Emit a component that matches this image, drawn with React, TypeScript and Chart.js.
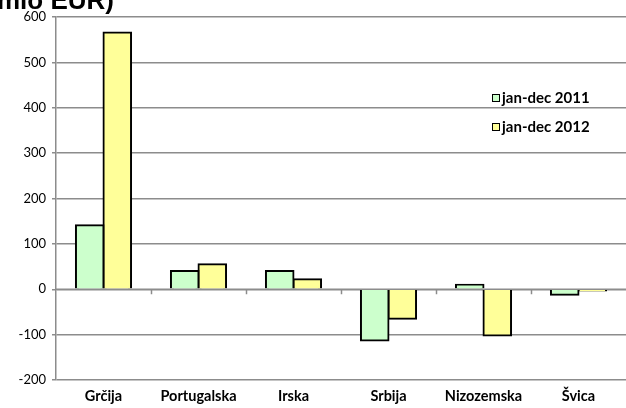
import React, { useEffect, useRef } from "react";
import { Chart, registerables } from "chart.js";
Chart.register(...registerables);

const categories = ["Grčija", "Portugalska", "Irska", "Srbija", "Nizozemska", "Švica"];
const series2011 = [141, 40, 40, -113, 10, -12];
const series2012 = [566, 55, 22, -65, -102, -3];
const seriesLabels = ["jan-dec 2011", "jan-dec 2012"];
const titleText = "mio EUR)";

const GREEN = "#CCFFCC";
const YELLOW = "#FFFF99";
const GRID = "#8c8c8c";
const FONT = "Lato, 'Open Sans', sans-serif";

const overlayPlugin = {
  id: "overlay",
  afterDraw(chart: any) {
    const ctx = chart.ctx;
    const y = chart.scales.y;
    const area = chart.chartArea;
    ctx.save();
    const y0 = y.getPixelForValue(0);
    ctx.strokeStyle = GRID;
    ctx.lineWidth = 1.5;
    // zero line over bars
    ctx.beginPath();
    ctx.moveTo(area.left, y0);
    ctx.lineTo(area.right, y0);
    ctx.stroke();
    // zero axis tick marks at category boundaries
    const n = categories.length;
    const w = (area.right - area.left) / n;
    for (let i = 1; i < n; i++) {
      const px = Math.round(area.left + w * i) + 0.5;
      ctx.beginPath();
      ctx.moveTo(px, y0);
      ctx.lineTo(px, y0 + 5);
      ctx.stroke();
    }
    // title fragment (cropped at top, as in the original)
    ctx.fillStyle = "#000";
    ctx.font = "bold 26px Arial, 'Liberation Sans', sans-serif";
    ctx.textBaseline = "alphabetic";
    ctx.textAlign = "left";
    ctx.fillText(titleText, -3, 9);
    // legend
    const colors = [GREEN, YELLOW];
    const ys = [98, 127];
    ctx.font = "bold 15px " + FONT;
    ctx.textBaseline = "middle";
    for (let i = 0; i < 2; i++) {
      ctx.fillStyle = colors[i];
      ctx.fillRect(492, ys[i] - 4, 8, 8);
      ctx.strokeStyle = "#000";
      ctx.lineWidth = 1;
      ctx.strokeRect(492.5, ys[i] - 3.5, 7, 7);
      ctx.fillStyle = "#000";
      ctx.fillText(seriesLabels[i], 502, ys[i] + 0.5);
    }
    ctx.restore();
  },
};

export default function App() {
  const ref = useRef<HTMLCanvasElement>(null);
  useEffect(() => {
    const chart = new Chart(ref.current!, {
      type: "bar",
      data: {
        labels: categories,
        datasets: [
          {
            label: seriesLabels[0],
            data: series2011,
            backgroundColor: GREEN,
            borderColor: "#000",
            borderWidth: 2,
            borderSkipped: "start",
            inflateAmount: 1,
          },
          {
            label: seriesLabels[1],
            data: series2012,
            backgroundColor: YELLOW,
            borderColor: "#000",
            borderWidth: 2,
            borderSkipped: "start",
            inflateAmount: 1,
          },
        ],
      },
      options: {
        responsive: false,
        animation: false,
        layout: { padding: { top: 17, right: 0, left: 0, bottom: 0 } },
        plugins: { legend: { display: false }, tooltip: { enabled: false }, title: { display: false } },
        datasets: { bar: { categoryPercentage: 0.58, barPercentage: 1 } } as any,
        scales: {
          x: {
            grid: { display: false, drawTicks: false },
            border: { display: false },
            ticks: {
              color: "#000",
              font: { family: FONT, size: 14.5, weight: "bold" },
              padding: 8,
              maxRotation: 0,
            },
            afterFit(s: any) {
              s.height = 28;
            },
          },
          y: {
            min: -200,
            max: 600,
            ticks: {
              stepSize: 100,
              color: "#000",
              font: { family: FONT, size: 13 },
              padding: 6,
            },
            grid: { color: GRID, lineWidth: 1.5, tickLength: 4 },
            border: { color: GRID, width: 1.5 },
            afterFit(s: any) {
              s.width = 56;
            },
          },
        },
      },
      plugins: [overlayPlugin],
    });
    return () => chart.destroy();
  }, []);
  return (
    <div style={{ position: "fixed", left: 0, top: 0, width: 626, height: 408, background: "#fff" }}>
      <canvas ref={ref} width={626} height={408} style={{ width: 626, height: 408 }} />
    </div>
  );
}
